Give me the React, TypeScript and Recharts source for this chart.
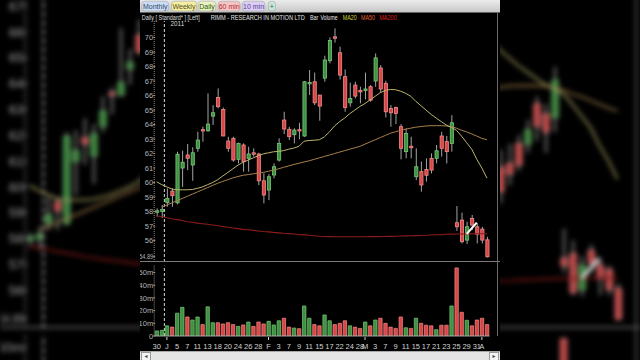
import React from 'react';
import { ComposedChart, Bar, Line, XAxis, YAxis, ReferenceLine, Cell } from 'recharts';

// RIMM daily, 30 Dec 2010 - 4 Apr 2011 (one entry per trading day)
const dateLabels = [
  '30', '', 'J', '', '5', '', '7', '', '11', '', '13', '', '18', '', '20', '', '24', '', '26', '', '28', '',
  'F', '', '3', '', '7', '', '9', '', '11', '', '15', '', '17', '', '22', '', '24', '', '28', 'M',
  '', '3', '', '7', '', '9', '', '11', '', '15', '', '17', '', '21', '', '23', '', '25', '', '29', '', '31', 'A', '',
];

const opens = [
  57.95, 58.0, 58.61, 59.41, 58.6, 61.0, 61.9, 61.21, 62.36, 63.65, 63.57, 64.58, 65.87, 65.04, 62.86, 63.05,
  61.6, 62.59, 61.67, 62.05, 61.97, 60.12, 59.48, 60.52, 61.55, 64.31, 63.67, 63.3, 63.65, 63.21, 66.85, 66.95,
  66.03, 67.2, 68.4, 70.05, 68.95, 67.3, 65.5, 66.72, 66.35, 66.38, 66.61, 67.0, 67.9, 66.84, 65.11, 65.18,
  63.85, 62.13, 62.5, 60.4, 60.75, 60.9, 61.67, 61.67, 63.21, 62.82, 62.7, 57.23, 57.41, 56.03, 57.53, 56.95,
  56.79, 56.05,
];
const highs = [
  58.22, 58.45, 59.6, 59.6, 62.12, 62.2, 62.66, 62.43, 63.5, 63.85, 66.15, 65.34, 66.49, 65.18, 63.16, 63.16,
  62.75, 62.7, 62.47, 62.36, 62.05, 60.64, 60.58, 61.32, 63.05, 64.88, 63.85, 63.74, 64.12, 67.0, 67.76, 67.58,
  66.05, 68.75, 70.01, 70.63, 69.37, 67.8, 66.88, 66.95, 66.61, 67.58, 66.72, 68.9, 68.1, 67.02, 65.34, 65.23,
  64.03, 63.74, 63.16, 62.36, 61.44, 61.67, 62.01, 62.59, 63.5, 63.21, 64.65, 58.38, 57.92, 57.3, 57.76, 57.18,
  56.95, 56.26,
];
const lows = [
  57.64, 57.55, 58.33, 58.33, 58.5, 59.7, 60.86, 60.12, 62.12, 62.82, 63.5, 63.97, 65.11, 63.2, 62.12, 61.44,
  61.32, 60.75, 60.75, 61.79, 59.83, 58.56, 58.79, 60.29, 61.44, 63.34, 62.93, 62.7, 62.98, 63.15, 66.03, 65.34,
  64.26, 66.95, 68.22, 69.65, 67.1, 64.88, 65.23, 65.8, 65.46, 65.73, 65.57, 66.6, 66.2, 64.49, 63.85, 64.03,
  61.6, 61.67, 61.67, 60.17, 59.37, 60.06, 60.63, 61.32, 61.79, 61.32, 62.13, 56.67, 55.8, 55.76, 56.72, 55.8,
  55.8, 54.83,
];
const closes = [
  58.05, 58.15, 58.91, 59.09, 61.95, 61.4, 61.67, 62.05, 62.93, 63.6, 64.03, 64.81, 65.23, 63.21, 62.36, 61.55,
  62.7, 61.44, 61.97, 61.98, 60.12, 59.14, 60.4, 61.09, 62.7, 63.69, 63.16, 63.62, 63.6, 66.95, 66.9, 65.5,
  65.27, 68.45, 69.8, 69.95, 67.41, 65.18, 65.8, 65.96, 66.25, 66.45, 65.68, 68.6, 66.45, 64.88, 64.81, 64.77,
  62.36, 63.39, 62.4, 61.09, 59.83, 60.5, 60.86, 62.19, 62.36, 62.13, 64.12, 56.95, 55.92, 56.95, 57.07, 56.44,
  56.03, 54.88,
];
// volume in millions
const volumes = [
  4, 4.5, 8, 7, 18, 22.6, 15, 12.6, 15, 9, 23, 10.5, 10.5, 9.5, 10.5, 9, 7.6, 8.7, 11, 7.6, 11, 9.5,
  11.6, 8.7, 12, 14, 7, 6.3, 5.8, 23.7, 14, 9, 8, 16.6, 12, 9, 10, 12, 8, 7, 6, 11, 8, 12.6,
  14, 10, 7, 6, 15, 6.5, 6, 14, 10, 8.5, 8, 5, 8.5, 8.5, 23.7, 53.7, 18.7, 12.4, 8, 12.6, 14, 9,
];
const ma20 = [
  60.05, 59.85, 59.7, 59.55, 59.5, 59.5, 59.5, 59.52, 59.6, 59.7, 59.85, 60.0, 60.2, 60.45, 60.7, 60.95,
  61.2, 61.4, 61.55, 61.7, 61.85, 61.98, 62.05, 62.12, 62.15, 62.2, 62.3, 62.38, 62.5, 62.85, 62.9, 62.92,
  62.95, 63.15, 63.5, 63.9, 64.2, 64.45, 64.75, 65.0, 65.25, 65.45, 65.7, 65.95, 66.2, 66.35, 66.42, 66.4,
  66.3, 66.15, 65.95, 65.6, 65.3, 65.0, 64.7, 64.45, 64.2, 63.97, 63.8, 63.6, 63.2, 62.75, 62.3, 61.6,
  61.0, 60.3,
];
const ma50 = [
  null, 58.3, 58.45, 58.6, 58.75, 58.9, 59.05, 59.2, 59.35, 59.5, 59.65, 59.8, 59.95, 60.08, 60.2, 60.32,
  60.42, 60.5, 60.55, 60.6, 60.65, 60.7, 60.78, 60.86, 60.95, 61.05, 61.15, 61.25, 61.33, 61.42, 61.5, 61.6,
  61.7, 61.8, 61.9, 62.0, 62.1, 62.2, 62.3, 62.4, 62.5, 62.65, 62.8, 62.95, 63.1, 63.25, 63.4, 63.5,
  63.6, 63.68, 63.75, 63.82, 63.86, 63.9, 63.92, 63.92, 63.92, 63.9, 63.85, 63.75, 63.6, 63.5, 63.35, 63.2,
  63.05, 62.95,
];
const ma200 = [
  57.7, 57.64, 57.57, 57.5, 57.44, 57.38, 57.3, 57.26, 57.2, 57.16, 57.12, 57.07, 57.02, 56.97, 56.92, 56.87,
  56.82, 56.77, 56.74, 56.7, 56.66, 56.62, 56.6, 56.56, 56.53, 56.5, 56.48, 56.45, 56.42, 56.39, 56.36, 56.33,
  56.3, 56.28, 56.27, 56.26, 56.26, 56.26, 56.26, 56.26, 56.26, 56.26, 56.27, 56.27, 56.28, 56.28, 56.29, 56.3,
  56.31, 56.32, 56.33, 56.34, 56.35, 56.36, 56.38, 56.4, 56.41, 56.43, 56.44, 56.45, 56.45, 56.46, 56.46, 56.47,
  56.47, 56.47,
];
const priceTicks = [54.89, 56, 57, 58, 59, 60, 61, 62, 63, 64, 65, 66, 67, 68, 69, 70];
const volumeTicks = [0, 10, 20, 30, 40, 50];
// user-drawn trend line (bar index, price)
const trendLine = [
  { i: 61, p: 56.45 },
  { i: 63, p: 57.23 },
];

const rows = dateLabels.map((label, i) => ({
  i,
  label,
  open: opens[i],
  high: highs[i],
  low: lows[i],
  close: closes[i],
  vol: volumes[i],
  ma20: ma20[i],
  ma50: ma50[i],
  ma200: ma200[i],
}));
const labelIdx = rows.filter((r) => r.label !== '').map((r) => r.i);

const FONT = '"Liberation Sans", Arial, Helvetica, sans-serif';
const UP_FILL = '#3e9140';
const UP_EDGE = '#78c878';
const DN_FILL = '#d94646';
const DN_EDGE = '#f58a8a';
const WICK = '#a4a4a4';

const Candle = (props: any) => {
  const { x, y, width, height, index } = props;
  const r = rows[index];
  if (!r || !Number.isFinite(y)) return null;
  const top = Math.min(y, y + height);
  const h = Math.abs(height);
  const span = r.high - r.low || 1;
  const toY = (p: number) => top + ((r.high - p) / span) * h;
  const up = r.close >= r.open;
  const cx = x + width / 2;
  const y1 = toY(Math.max(r.open, r.close));
  const y2 = toY(Math.min(r.open, r.close));
  return (
    <g>
      <line x1={cx} x2={cx} y1={top} y2={top + h} stroke={WICK} strokeWidth={1} />
      <rect
        x={x + 0.4}
        y={y1}
        width={width - 0.8}
        height={Math.max(y2 - y1, 1.4)}
        fill={up ? UP_FILL : DN_FILL}
        stroke={up ? UP_EDGE : DN_EDGE}
        strokeWidth={0.8}
      />
    </g>
  );
};

const PriceTick = (props: any) => {
  const { x, y, payload } = props;
  const v = payload.value;
  const whole = Number.isInteger(v);
  return (
    <g>
      <line x1={x - 1} x2={x + 1} y1={y} y2={y} stroke="#9a9a9a" />
      <text
        x={x - 1}
        y={y + 2.6}
        textAnchor="end"
        fill="#b2b2b2"
        fontSize={7.5}
        fontFamily={FONT}
        {...(whole ? {} : { textLength: 14, lengthAdjust: 'spacingAndGlyphs' })}
      >
        {whole ? String(v) : v.toFixed(2)}
      </text>
    </g>
  );
};

const VolTick = (props: any) => {
  const { x, y, payload } = props;
  const v = payload.value;
  return (
    <g>
      <line x1={x - 1} x2={x + 1} y1={y} y2={y} stroke="#9a9a9a" />
      <text x={x - 1} y={y + 2.6} textAnchor="end" fill="#b2b2b2" fontSize={7.5} fontFamily={FONT}>
        {v === 0 ? '0' : `${v}m`}
      </text>
    </g>
  );
};

const DateTick = (props: any) => {
  const { x, y, payload } = props;
  const label = dateLabels[payload.value] || '';
  const month = /[A-Z]/.test(label);
  return (
    <g>
      {month && <line x1={x} x2={x} y1={y + 1} y2={y + 4} stroke="#cfcfcf" />}
      <text x={x} y={y + 13.3} textAnchor="middle" fill="#d2d2d2" fontSize={7.5} fontFamily={FONT}>
        {label}
      </text>
    </g>
  );
};

const Toolbar = () => {
  const btn = (label: string, x: number, w: number, bg: string, fg: string) => (
    <g key={label}>
      <rect x={x} y={1.2} width={w} height={9.8} rx={3} fill={bg} stroke="#9c9c9c" strokeWidth={0.5} />
      <text x={x + w / 2} y={8.9} textAnchor="middle" fontSize={7} fontFamily={FONT} fill={fg}>
        {label}
      </text>
    </g>
  );
  return (
    <svg width={360} height={30} style={{ position: 'absolute', left: 0, top: 0 }}>
      <defs>
        <linearGradient id="tb" x1="0" y1="0" x2="0" y2="1">
          <stop offset="0" stopColor="#ececec" />
          <stop offset="1" stopColor="#c6c6c6" />
        </linearGradient>
      </defs>
      <rect x={0} y={0} width={360} height={12.5} fill="url(#tb)" />
      {btn('Monthly', 1.7, 27, '#c9dcf3', '#34466a')}
      {btn('Weekly', 31.5, 25, '#f3eea0', '#54501c')}
      {btn('Daily', 58.3, 17.5, '#e8f2bd', '#35551a')}
      {btn('60 min', 78.3, 21.8, '#f3c4c4', '#b42c2c')}
      {btn('10 min', 102.3, 22.5, '#dacff3', '#5a3a9c')}
      {btn('+', 128.3, 7.2, '#c8e6d9', '#2a6a5a')}
      <g fontFamily={FONT} fontSize={6.6}>
        <text x={1.7} y={19.6} fill="#dedede" textLength={58} lengthAdjust="spacingAndGlyphs">
          Daily [ Standard* ]  [Left]
        </text>
        <text x={70.7} y={19.6} fill="#e6e6e6" textLength={94} lengthAdjust="spacingAndGlyphs">
          RIMM - RESEARCH IN MOTION LTD
        </text>
        <text x={170} y={19.6} fill="#e6e6e6" textLength={8.3} lengthAdjust="spacingAndGlyphs">Bar</text>
        <text x={180.5} y={19.6} fill="#e6e6e6" textLength={17} lengthAdjust="spacingAndGlyphs">Volume</text>
        <text x={202.7} y={19.6} fill="#d6cf3c" textLength={14} lengthAdjust="spacingAndGlyphs">MA20</text>
        <text x={221} y={19.6} fill="#e4622e" textLength={14} lengthAdjust="spacingAndGlyphs">MA50</text>
        <text x={239.3} y={19.6} fill="#dd1f1f" textLength={17.4} lengthAdjust="spacingAndGlyphs">MA200</text>
        <text x={30.5} y={26.4} fill="#dedede" fontSize={6.4}>2011</text>
      </g>
    </svg>
  );
};

const Frame = () => (
  <div style={{ position: 'absolute', left: 0, top: 0, width: 360, height: 360, background: '#000', fontFamily: FONT }}>
    <Toolbar />
    <div style={{ position: 'absolute', left: 0, top: 0 }}>
      <ComposedChart width={360} height={262} data={rows} margin={{ top: 21, right: 10.5, left: 0, bottom: 0 }}>
        <XAxis dataKey="i" hide />
        <YAxis
          width={14.2}
          domain={[54.52, 71.14]}
          allowDataOverflow
          ticks={priceTicks}
          interval={0}
          tick={<PriceTick />}
          tickLine={false}
          tickSize={0}
          tickMargin={0}
          axisLine={{ stroke: '#8a8a8a', strokeDasharray: '1 1' }}
        />
        <ReferenceLine x={2} position="start" stroke="#d4d4d4" strokeDasharray="3 2" />
        <Line dataKey="ma200" stroke="#8e1b1b" strokeWidth={1.1} dot={false} isAnimationActive={false} />
        <Line dataKey="ma50" stroke="#a8804c" strokeWidth={1} dot={false} isAnimationActive={false} />
        <Line dataKey="ma20" stroke="#bdb46e" strokeWidth={1} dot={false} isAnimationActive={false} />
        <Bar dataKey={(d: any) => [d.low, d.high]} barSize={4} shape={Candle} isAnimationActive={false} />
        <ReferenceLine
          segment={trendLine.map((t) => ({ x: t.i, y: t.p }))}
          stroke="#ffffff"
          strokeWidth={2}
          ifOverflow="visible"
        />
      </ComposedChart>
    </div>
    <div style={{ position: 'absolute', left: 0, top: 261.2, width: 360, height: 1, background: '#7a7a7a' }} />
    <div style={{ position: 'absolute', left: 0, top: 262 }}>
      <ComposedChart width={360} height={98} data={rows} margin={{ top: 3.6, right: 10.5, left: 0, bottom: 0 }}>
        <XAxis
          dataKey="i"
          height={24}
          ticks={labelIdx}
          interval={0}
          tick={<DateTick />}
          tickLine={false}
          tickSize={0}
          tickMargin={0}
          axisLine={{ stroke: '#a0a0a0' }}
        />
        <YAxis
          width={14.2}
          domain={[0, 55.5]}
          allowDataOverflow
          ticks={volumeTicks}
          interval={0}
          tick={<VolTick />}
          tickLine={false}
          tickSize={0}
          tickMargin={0}
          axisLine={{ stroke: '#8a8a8a', strokeDasharray: '1 1' }}
        />
        <ReferenceLine x={2} position="start" stroke="#d4d4d4" strokeDasharray="3 2" />
        <Bar dataKey="vol" barSize={3.4} isAnimationActive={false}>
          {rows.map((r) => (
            <Cell
              key={r.i}
              fill={r.close >= r.open ? UP_FILL : DN_FILL}
              stroke={r.close >= r.open ? UP_EDGE : DN_EDGE}
              strokeWidth={0.7}
            />
          ))}
        </Bar>
      </ComposedChart>
    </div>
    <div style={{ position: 'absolute', left: 356.5, top: 13, width: 1, height: 323, background: '#6a6a6a' }} />
    <div
      style={{
        position: 'absolute',
        left: 0,
        top: 350.5,
        width: 360,
        height: 9.5,
        background: '#e4e4e4',
        borderTop: '1px solid #a8a8a8',
        boxSizing: 'border-box',
      }}
    >
      <div
        style={{
          position: 'absolute', left: 1, top: 0.5, width: 8, height: 7, border: '1px solid #9a9a9a',
          fontSize: 5, lineHeight: '7px', textAlign: 'center', color: '#444', background: '#f4f4f4',
        }}
      >
        ◄
      </div>
      <div
        style={{
          position: 'absolute', left: 349, top: 0.5, width: 8, height: 7, border: '1px solid #9a9a9a',
          fontSize: 5, lineHeight: '7px', textAlign: 'center', color: '#444', background: '#f4f4f4',
        }}
      >
        ►
      </div>
    </div>
  </div>
);

export default function App() {
  return (
    <div style={{ position: 'fixed', left: 0, top: 0, width: 640, height: 360, overflow: 'hidden', background: '#000' }}>
      <div
        style={{
          position: 'absolute',
          left: 0.4,
          top: -138.1,
          width: 360,
          height: 360,
          transform: 'scale(1.78)',
          transformOrigin: '0 0',
          filter: 'blur(1.5px) brightness(0.88)',
        }}
      >
        <Frame />
      </div>
      <div style={{ position: 'absolute', left: 140, top: 0, width: 360, height: 360 }}>
        <Frame />
      </div>
    </div>
  );
}
